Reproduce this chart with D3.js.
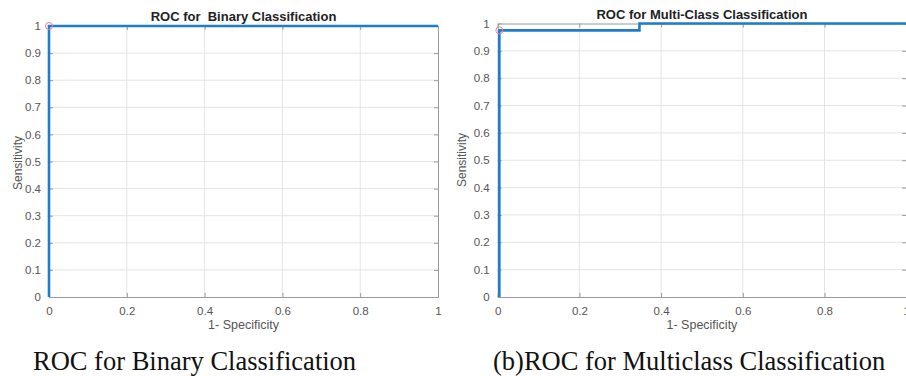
<!DOCTYPE html>
<html>
<head>
<meta charset="utf-8">
<script src="https://cdn.jsdelivr.net/npm/d3@7"></script>
<style>
  body { margin: 0; background: #fff; }
  svg { display: block; }
</style>
</head>
<body>
<svg id="svg" width="906" height="376"></svg>
<script>
// ROC curve data
const binaryFpr = [0, 0, 1];
const binaryTpr = [0, 1, 1];
const binaryOp = [0, 1];

const multiFpr = [0.004, 0.004, 0.347, 0.347, 1];
const multiTpr = [0, 0.975, 0.975, 1, 1];
const multiOp = [0.004, 0.975];

const tickValues = [0, 0.1, 0.2, 0.3, 0.4, 0.5, 0.6, 0.7, 0.8, 0.9, 1];
const xTickValues = [0, 0.2, 0.4, 0.6, 0.8, 1];

const svg = d3.select("#svg");

function drawPanel(p) {
  const x = d3.scaleLinear().domain([0, 1]).range([p.x0, p.x1]);
  const y = d3.scaleLinear().domain([0, 1]).range([p.y0, p.y1]);
  const g = svg.append("g");

  // grid
  g.append("g")
    .selectAll("line")
    .data(xTickValues.slice(1, -1))
    .join("line")
    .attr("x1", d => x(d)).attr("x2", d => x(d))
    .attr("y1", p.y0).attr("y2", p.y1)
    .attr("stroke", "#e4e4e4");
  g.append("g")
    .selectAll("line")
    .data(tickValues.slice(1, -1))
    .join("line")
    .attr("x1", p.x0).attr("x2", p.x1)
    .attr("y1", d => y(d)).attr("y2", d => y(d))
    .attr("stroke", "#e4e4e4");

  // axes (ticks inside, like MATLAB)
  const fmt = d => d === 0 || d === 1 ? String(d) : d3.format(".1f")(d);
  const axStyle = a => {
    a.select(".domain").attr("stroke", "#9a9a9a");
    a.selectAll(".tick line").attr("stroke", "#9a9a9a");
    a.selectAll(".tick text").attr("fill", "#555")
      .style("font-family", "Liberation Sans, Arial, sans-serif")
      .style("font-size", "11.5px");
  };
  g.append("g")
    .attr("transform", `translate(0,${p.y0})`)
    .call(d3.axisBottom(x).tickValues(xTickValues).tickFormat(fmt)
      .tickSizeInner(-4).tickSizeOuter(0).tickPadding(10))
    .call(axStyle);
  g.append("g")
    .attr("transform", `translate(0,${p.y1})`)
    .call(d3.axisTop(x).tickValues(xTickValues).tickFormat("")
      .tickSizeInner(-4).tickSizeOuter(0))
    .call(axStyle);
  g.append("g")
    .attr("transform", `translate(${p.x0},0)`)
    .call(d3.axisLeft(y).tickValues(tickValues).tickFormat(fmt)
      .tickSizeInner(-4).tickSizeOuter(0).tickPadding(8))
    .call(axStyle);
  g.append("g")
    .attr("transform", `translate(${p.x1},0)`)
    .call(d3.axisRight(y).tickValues(tickValues).tickFormat("")
      .tickSizeInner(-4).tickSizeOuter(0))
    .call(axStyle);

  // curve
  const pts = p.fpr.map((f, i) => [f, p.tpr[i]]);
  g.append("path")
    .datum(pts)
    .attr("d", d3.line().x(d => x(d[0])).y(d => y(d[1])))
    .attr("fill", "none")
    .attr("stroke", "#1f7ccc")
    .attr("stroke-width", 2.6);

  // operating point
  g.append("circle")
    .attr("cx", x(p.op[0])).attr("cy", y(p.op[1]))
    .attr("r", 3.5)
    .attr("fill", "none")
    .attr("stroke", "#f08080")
    .attr("stroke-width", 1);

  const cx = (p.x0 + p.x1) / 2;
  g.append("text")
    .attr("x", cx).attr("y", p.titleY)
    .attr("text-anchor", "middle")
    .style("font-family", "Liberation Sans, Arial, sans-serif")
    .style("font-weight", "bold")
    .style("font-size", "13px")
    .attr("fill", "#222")
    .attr("xml:space", "preserve")
    .text(p.title);
  g.append("text")
    .attr("x", cx).attr("y", 329)
    .attr("text-anchor", "middle")
    .style("font-family", "Liberation Sans, Arial, sans-serif")
    .style("font-size", "12.5px")
    .attr("fill", "#555")
    .text("1- Specificity");
  g.append("text")
    .attr("transform", `translate(${p.yLabelX},${p.yLabelY}) rotate(-90)`)
    .attr("text-anchor", "middle")
    .attr("dy", "0.35em")
    .style("font-family", "Liberation Sans, Arial, sans-serif")
    .style("font-size", "12px")
    .attr("fill", "#555")
    .text("Sensitivity");
  g.append("text")
    .attr("x", p.capX).attr("y", 370)
    .style("font-family", "Liberation Serif, Times New Roman, serif")
    .style("font-size", p.capSize)
    .attr("fill", "#111")
    .text(p.caption);
}

drawPanel({
  x0: 49, x1: 438, y0: 297, y1: 26,
  fpr: binaryFpr, tpr: binaryTpr, op: binaryOp,
  title: "ROC for  Binary Classification", titleY: 21,
  yLabelX: 18, yLabelY: 163,
  caption: "ROC for Binary Classification", capX: 33, capSize: "26.5px"
});
drawPanel({
  x0: 497.7, x1: 906.2, y0: 297, y1: 23.5,
  fpr: multiFpr, tpr: multiTpr, op: multiOp,
  title: "ROC for Multi-Class Classification", titleY: 18.5,
  yLabelX: 462, yLabelY: 160,
  caption: "(b)ROC for Multiclass Classification", capX: 493, capSize: "26.5px"
});
</script>
</body>
</html>
